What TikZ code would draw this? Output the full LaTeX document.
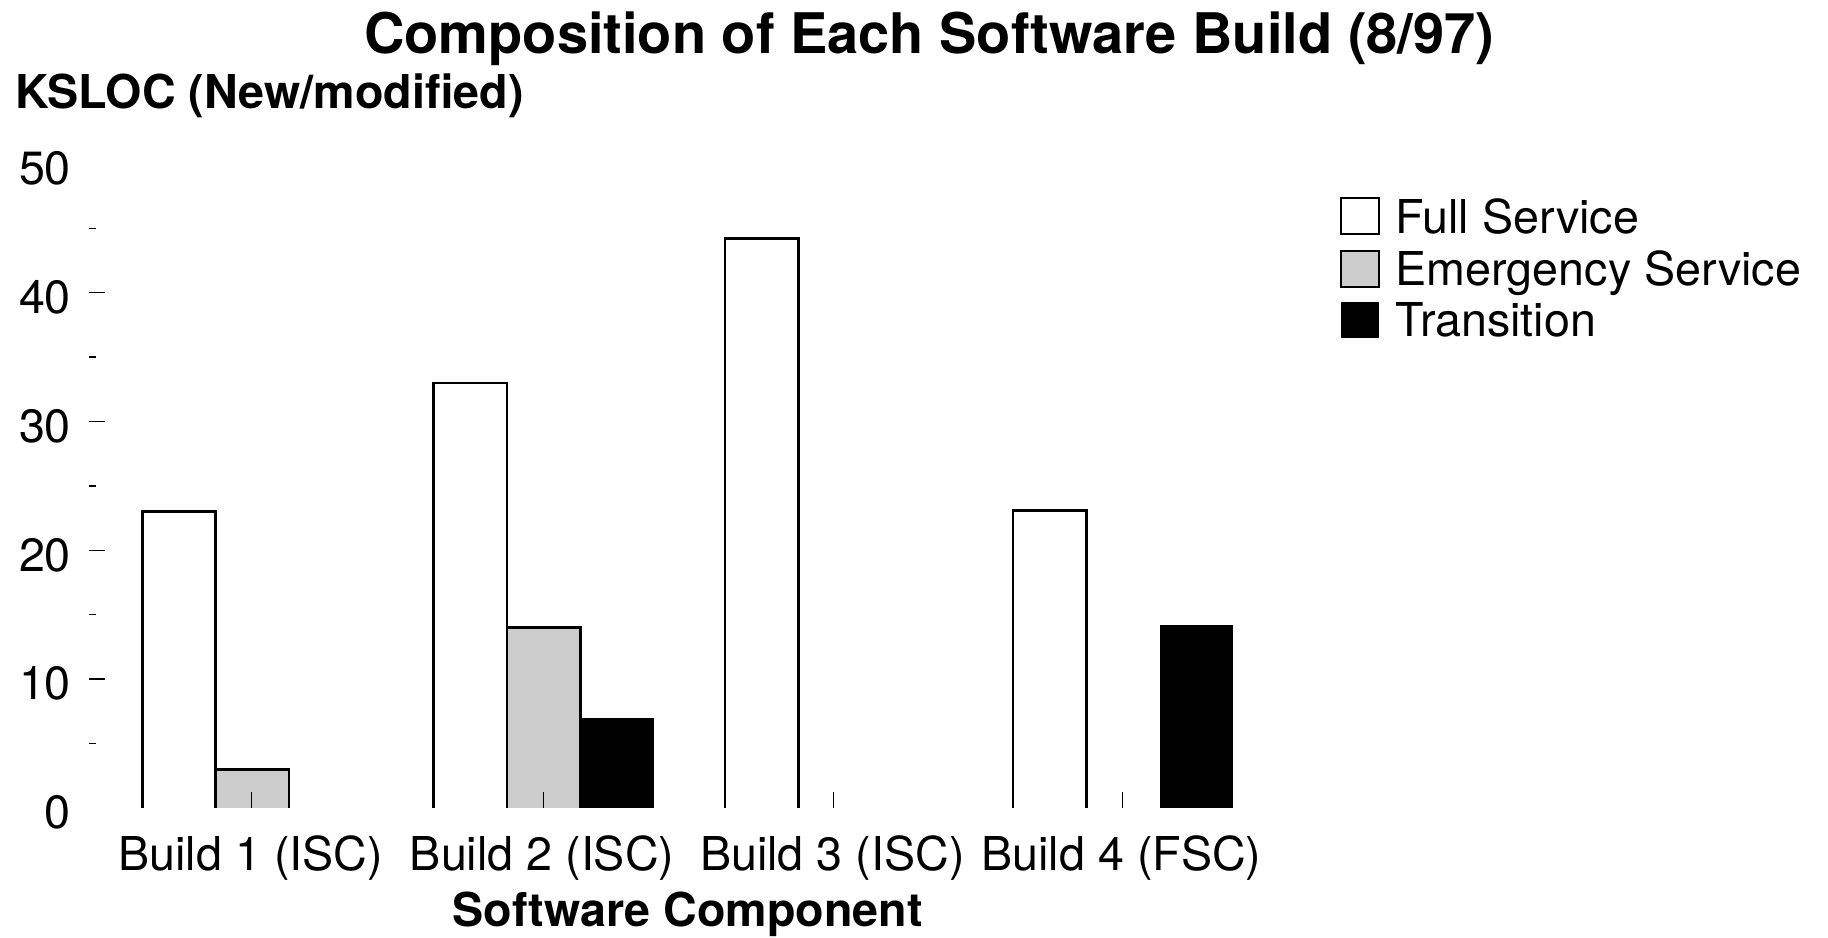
\documentclass[tikz,border=0pt]{standalone}
\usepackage{fontspec}
\setmainfont{TeX Gyre Heros}
\begin{document}
\begin{tikzpicture}[x=1pt,y=-1pt,
  txt/.style={inner sep=0pt, font=\fontsize{40}{46}\selectfont},
  boldtxt/.style={inner sep=0pt, font=\bfseries\fontsize{40}{46}\selectfont},
  barline/.style={line width=2.2pt, line join=miter},
  emerg/.style={fill=black!20},
  trans/.style={fill=black},
  tickline/.style={line width=1.1pt}]
\useasboundingbox (0,0) rectangle (1568,804);
\def\base{693}
\def\u{11.05}
% title and axis titles
\node[inner sep=0pt, font=\bfseries\fontsize{48}{54}\selectfont, anchor=base] (title) at (797,46) {Composition of Each Software Build (8/97)};
\node[boldtxt, anchor=base west] (ylab) at (13,93) {KSLOC (New/modified)};
\node[boldtxt, anchor=base] (xlab) at (590,795) {Software Component};
% y axis labels and ticks
\foreach \v/\n in {0/y0,10/y10,20/y20,30/y30,40/y40,50/y50}{
  \node[txt, anchor=east] (\n) at (61,{\base-\u*\v+4}) {\v};
}
\foreach \v in {10,20,30,40}{
  \draw[tickline] (76,{\base-\u*\v}) -- (90,{\base-\u*\v});
}
\foreach \v in {5,15,25,35,45}{
  \draw[tickline] (76,{\base-\u*\v}) -- (82,{\base-\u*\v});
}
% category labels
\node[txt, anchor=base] (c1) at (215,747) {Build 1 (ISC)};
\node[txt, anchor=base] (c2) at (465,747) {Build 2 (ISC)};
\node[txt, anchor=base] (c3) at (714,747) {Build 3 (ISC)};
\node[txt, anchor=base] (c4) at (962,747) {Build 4 (FSC)};
% fills
\fill[emerg] (185,\base) rectangle (248,{\base-\u*3});
\fill[emerg] (435,\base) rectangle (498,{\base-\u*14});
\fill[trans] (498,\base) rectangle (561,{\base-\u*7});
\fill[trans] (995,\base) rectangle (1058,{\base-\u*14.2});
% category ticks
\foreach \x in {216,466,715,963}{
  \draw[tickline] (\x,\base) -- (\x,{\base-14});
}
% bar outlines
\draw[barline] (122,\base) |- (185,{\base-\u*23}) -- (185,\base);
\draw[barline] (185,\base) |- (248,{\base-\u*3}) -- (248,\base);
\draw[barline] (372,\base) |- (435,{\base-\u*33}) -- (435,\base);
\draw[barline] (435,\base) |- (498,{\base-\u*14}) -- (498,\base);
\draw[barline] (622,\base) |- (685,{\base-\u*44.2}) -- (685,\base);
\draw[barline] (869,\base) |- (932,{\base-\u*23.1}) -- (932,\base);
% legend
\draw[line width=1.6pt] (1150,170) rectangle (1183,201);
\node[txt, anchor=base west] (l1) at (1197,200) {Full Service};
\draw[line width=1.6pt, emerg] (1150,215) rectangle (1183,246);
\node[txt, anchor=base west] (l2) at (1197,245) {Emergency Service};
\fill[trans] (1150,259) rectangle (1183,290);
\node[txt, anchor=base west] (l3) at (1197,289) {Transition};
\end{tikzpicture}
\end{document}
